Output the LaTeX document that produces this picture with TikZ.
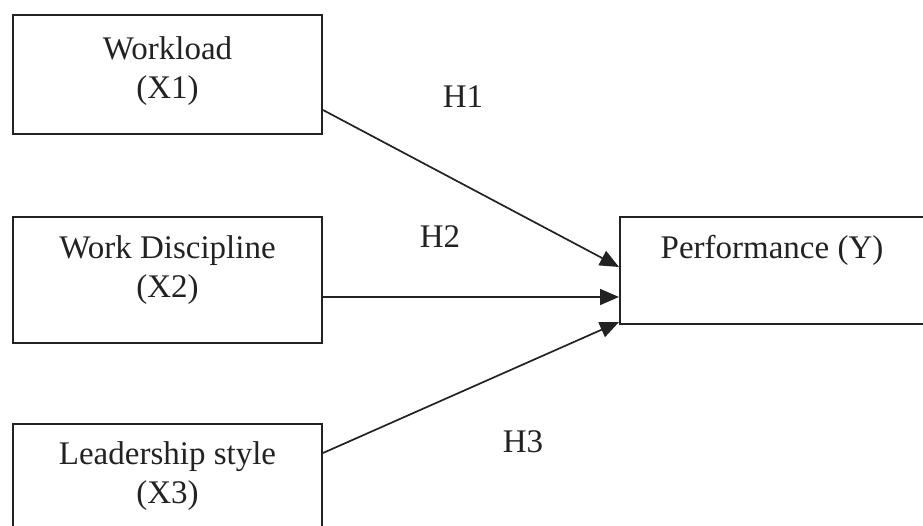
\documentclass[tikz,border=0pt]{standalone}
\usepackage{fontspec}
\setmainfont{Liberation Serif}
\usetikzlibrary{arrows.meta}
\definecolor{ink}{RGB}{34,34,34}
\tikzset{
  varbox/.style={rectangle, draw=ink, line width=2pt, minimum width=309pt, inner sep=0pt, align=center, font=\fontsize{33}{39}\selectfont, text=ink},
  hlabel/.style={anchor=base, inner sep=0pt, font=\fontsize{33}{39}\selectfont, text=ink},
  path/.style={draw=ink, line width=1.7pt, -{Triangle[length=19pt,width=16pt]}},
}
\begin{document}
\begin{tikzpicture}[x=1pt, y=-1pt]
\useasboundingbox (0,0) rectangle (923,526);
\clip (0,0) rectangle (923,526);
\node[varbox, minimum height=119pt, text depth=13pt] (x1) at (167.5,74.5) {Workload\\ (X1)};
\node[varbox, minimum height=126pt, text depth=27pt] (x2) at (167.5,280) {Work Discipline\\ (X2)};
\node[varbox, minimum height=104pt] (x3) at (167.5,476) {Leadership style\\ (X3)};
\node[varbox, minimum width=304pt, minimum height=107pt, text depth=48pt] (y) at (772,270.5) {Performance (Y)};
\draw[path] ([yshift=-35.5pt]x1.east) -- ([yshift=3.5pt]y.west);
\draw[path] ([yshift=-17pt]x2.east) -- ([yshift=-26.5pt]y.west);
\draw[path] ([yshift=23pt]x3.east) -- ([yshift=-51.5pt]y.west);
\node[hlabel] (h1) at (463,108) {H1};
\node[hlabel] (h2) at (440,248) {H2};
\node[hlabel] (h3) at (523,452) {H3};
\end{tikzpicture}
\end{document}
